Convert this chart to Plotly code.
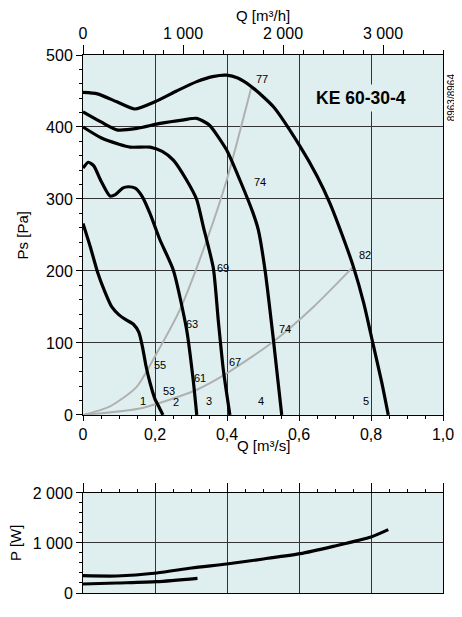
import plotly.graph_objects as go

# ---------------- data ----------------
c1_q = [0, 0.02, 0.04, 0.06, 0.08, 0.1, 0.12, 0.14, 0.155, 0.165, 0.175, 0.186, 0.2, 0.212, 0.222]
c1_p = [266, 234, 199, 172, 150, 139, 132, 126, 115, 95, 68, 45, 22, 10, 0]

c2_q = [0, 0.015, 0.03, 0.05, 0.075, 0.09, 0.11, 0.126, 0.145, 0.165, 0.186, 0.214, 0.251, 0.288, 0.306, 0.316]
c2_p = [343, 351, 346, 325, 304, 306, 315, 317, 315, 303, 280, 243, 201, 118, 49, 0]

c3_q = [0, 0.05, 0.1, 0.131, 0.186, 0.22, 0.251, 0.288, 0.316, 0.334, 0.362, 0.376, 0.39, 0.408]
c3_p = [400, 385, 376, 372, 372, 366, 354, 326, 299, 262, 204, 130, 62, 0]

c4_q = [0, 0.05, 0.094, 0.15, 0.214, 0.28, 0.316, 0.35, 0.399, 0.436, 0.472, 0.487, 0.506, 0.529, 0.552]
c4_p = [421, 407, 396, 398, 405, 410, 412, 403, 368, 326, 281, 257, 200, 104, 0]

c5_q = [0, 0.04, 0.094, 0.144, 0.2, 0.26, 0.316, 0.36, 0.399, 0.43, 0.468, 0.529, 0.603, 0.65, 0.686, 0.72, 0.751, 0.78, 0.805, 0.83, 0.848]
c5_p = [448, 446, 435, 425, 435, 450, 463, 470, 472, 468, 456, 428, 373, 332, 294, 250, 206, 155, 100, 45, 0]

sys_a_q = [0, 0.075, 0.149, 0.205, 0.269, 0.344, 0.399, 0.468]
sys_a_p = [0, 12, 39, 86, 146, 243, 326, 456]

sys_b_q = [0, 0.158, 0.251, 0.316, 0.397, 0.529, 0.64, 0.751]
sys_b_p = [0, 9, 23, 35, 57, 102, 150, 206]

pw_hi_q = [0, 0.094, 0.205, 0.302, 0.399, 0.501, 0.603, 0.695, 0.8, 0.848]
pw_hi_w = [346, 340, 400, 500, 580, 680, 786, 933, 1120, 1266]

pw_lo_q = [0, 0.094, 0.205, 0.318]
pw_lo_w = [180, 200, 226, 293]

q_ticks = [0, 0.2, 0.4, 0.6, 0.8, 1.0]
q_ticktext = ["0", "0,2", "0,4", "0,6", "0,8", "1,0"]
qh_ticks = [0, 1000, 2000, 3000]
qh_ticktext = ["0", "1 000", "2 000", "3 000"]
ps_ticks = [0, 100, 200, 300, 400, 500]
p_ticks = [0, 1000, 2000]
p_ticktext = ["0", "1 000", "2 000"]

curve_labels = ["1", "2", "3", "4", "5"]
label_q = [0.166, 0.258, 0.35, 0.494, 0.786]
label_p = [20, 18, 20, 20, 20]

point_labels = ["77", "74", "69", "63", "55", "53", "61", "67", "74", "82"]
point_q = [0.498, 0.492, 0.39, 0.302, 0.214, 0.239, 0.325, 0.422, 0.561, 0.783]
point_p = [467, 323, 204, 127, 69, 33, 51, 74, 120, 222]

# ---------------- figure ----------------
FONT = "Liberation Sans, Arial, sans-serif"
BG = "#DFEFEF"
GRID = "#333333"

fig = go.Figure()

# invisible helper so the m³/h top axis is drawn
fig.add_trace(go.Scatter(x=[0], y=[-1000], xaxis="x2", yaxis="y", mode="markers",
                         marker=dict(opacity=0), showlegend=False, hoverinfo="skip"))

for qx, py in [(sys_a_q, sys_a_p), (sys_b_q, sys_b_p)]:
    fig.add_trace(go.Scatter(x=qx, y=py, mode="lines", xaxis="x", yaxis="y",
                             line=dict(color="#b0b0b0", width=2, shape="spline", smoothing=0.7),
                             showlegend=False, hoverinfo="skip"))

for qx, py in [(c1_q, c1_p), (c2_q, c2_p), (c3_q, c3_p), (c4_q, c4_p), (c5_q, c5_p)]:
    fig.add_trace(go.Scatter(x=qx, y=py, mode="lines", xaxis="x", yaxis="y",
                             line=dict(color="black", width=3.2, shape="spline", smoothing=0.6),
                             showlegend=False, hoverinfo="skip"))

for qx, wy in [(pw_hi_q, pw_hi_w), (pw_lo_q, pw_lo_w)]:
    fig.add_trace(go.Scatter(x=qx, y=wy, mode="lines", xaxis="x3", yaxis="y3",
                             line=dict(color="black", width=3.2, shape="spline", smoothing=0.7),
                             showlegend=False, hoverinfo="skip"))

tickfont = dict(family=FONT, size=16, color="black")

# the page body adds an 8 px offset, margins compensate for it
fig.update_layout(
    width=462, height=617, autosize=False,
    margin=dict(l=75, r=27, t=47, b=32, pad=0),
    paper_bgcolor="white", plot_bgcolor=BG,
    font=dict(family=FONT, color="black"),
    showlegend=False,
    xaxis=dict(domain=[0, 1], anchor="y", range=[0, 1], tickvals=q_ticks, ticktext=q_ticktext,
               ticks="outside", ticklen=5, tickcolor="black", tickfont=tickfont,
               minor=dict(dtick=0.05, tick0=0, ticklen=3, ticks="outside", tickcolor="black", showgrid=False),
               showgrid=True, gridcolor=GRID, gridwidth=1, zeroline=False,
               showline=True, linecolor="black", linewidth=1),
    xaxis2=dict(overlaying="x", side="top", anchor="y", range=[0, 3600],
                tickvals=qh_ticks, ticktext=qh_ticktext, ticks="outside", ticklen=9,
                tickcolor="black", tickfont=tickfont,
                minor=dict(dtick=200, tick0=0, ticklen=4, ticks="outside", tickcolor="black", showgrid=False),
                showgrid=False, zeroline=False, showline=True, linecolor="black", linewidth=1),
    yaxis=dict(domain=[0.331, 1], anchor="x", range=[0, 500], tickvals=ps_ticks,
               ticks="outside", ticklen=6, tickcolor="black", tickfont=tickfont,
               minor=dict(dtick=20, tick0=0, ticklen=3, ticks="outside", tickcolor="black", showgrid=False),
               showgrid=True, gridcolor=GRID, gridwidth=1, zeroline=False,
               showline=True, linecolor="black", linewidth=1, mirror=True),
    xaxis3=dict(domain=[0, 1], anchor="y3", side="top", range=[0, 1], tickvals=q_ticks,
                showticklabels=False, ticks="outside", ticklen=9, tickcolor="black",
                minor=dict(dtick=0.05, tick0=0, ticklen=3, ticks="outside", tickcolor="black", showgrid=False),
                showgrid=True, gridcolor=GRID, gridwidth=1, zeroline=False,
                showline=True, linecolor="black", linewidth=1, mirror=True),
    yaxis3=dict(domain=[0, 0.186], anchor="x3", range=[0, 2000], tickvals=p_ticks, ticktext=p_ticktext,
                ticks="outside", ticklen=6, tickcolor="black", tickfont=tickfont,
                minor=dict(dtick=200, tick0=0, ticklen=3, ticks="outside", tickcolor="black", showgrid=False),
                showgrid=True, gridcolor=GRID, gridwidth=1, zeroline=False,
                showline=True, linecolor="black", linewidth=1, mirror=True),
)

ann = []
for t, qx, py in zip(curve_labels, label_q, label_p):
    ann.append(dict(x=qx, y=py, xref="x", yref="y", text=t, showarrow=False,
                    font=dict(family=FONT, size=11, color="black")))
for t, qx, py in zip(point_labels, point_q, point_p):
    ann.append(dict(x=qx, y=py, xref="x", yref="y", text=t, showarrow=False,
                    font=dict(family=FONT, size=11, color="black")))

ann += [
    dict(x=0.5, y=1.074, xref="paper", yref="paper", text="Q [m³/h]", showarrow=False,
         font=dict(family=FONT, size=15), xanchor="center", yanchor="middle"),
    dict(x=0.5, y=0.275, xref="paper", yref="paper", text="Q [m³/s]", showarrow=False,
         font=dict(family=FONT, size=15), xanchor="center", yanchor="middle"),
    dict(x=-0.169, y=0.665, xref="paper", yref="paper", text="Ps [Pa]", showarrow=False,
         textangle=-90, font=dict(family=FONT, size=15), xanchor="center", yanchor="middle"),
    dict(x=-0.186, y=0.093, xref="paper", yref="paper", text="P [W]", showarrow=False,
         textangle=-90, font=dict(family=FONT, size=15), xanchor="center", yanchor="middle"),
    dict(x=1.026, y=0.922, xref="paper", yref="paper", text="8963/8964", showarrow=False,
         textangle=-90, font=dict(family=FONT, size=10), xanchor="center", yanchor="middle"),
    dict(x=0.772, y=0.921, xref="paper", yref="paper", text="<b>KE 60-30-4</b>", showarrow=False,
         bgcolor=BG, font=dict(family=FONT, size=17.5), xanchor="center", yanchor="middle",
         borderpad=3),
]
fig.update_layout(annotations=ann)

fig.write_html("out.html")
